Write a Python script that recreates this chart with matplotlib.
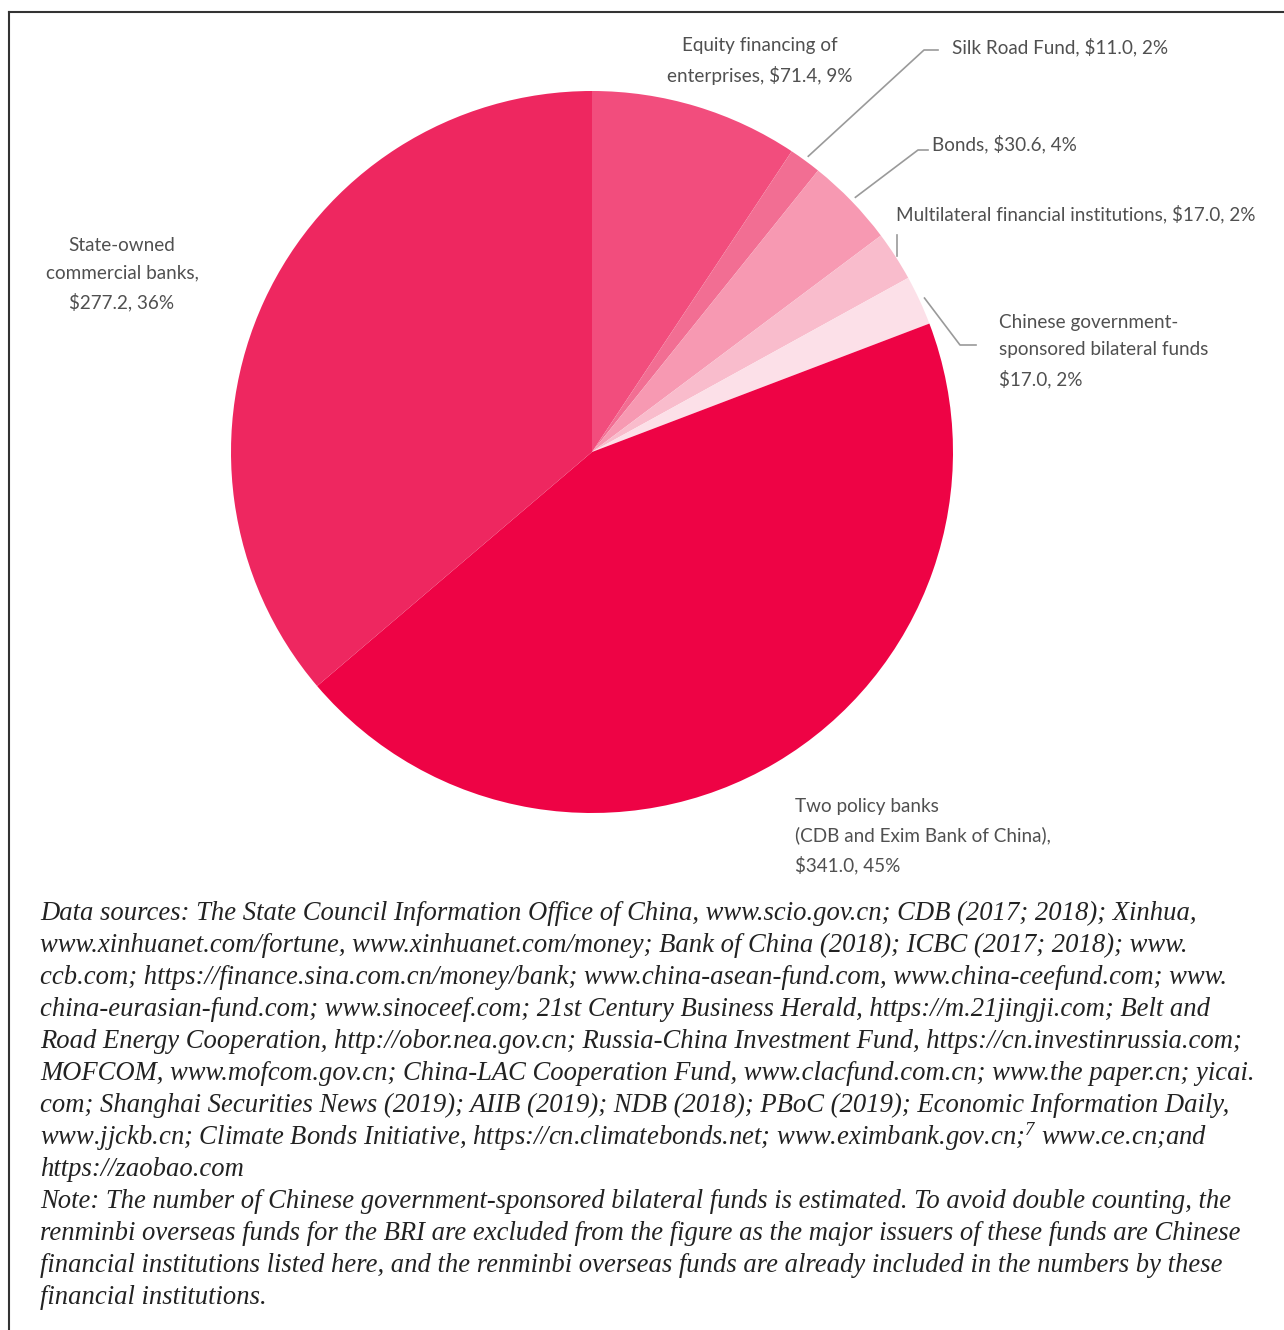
import numpy as np
import matplotlib
matplotlib.use("Agg")
import matplotlib.pyplot as plt
from matplotlib.lines import Line2D

# data, clockwise from 12 o'clock
labels = ["Equity financing of\nenterprises, $71.4, 9%",
          "Silk Road Fund, $11.0, 2%",
          "Bonds, $30.6, 4%",
          "Multilateral financial institutions, $17.0, 2%",
          "Chinese government-\nsponsored bilateral funds\n$17.0, 2%",
          "Two policy banks\n(CDB and Exim Bank of China),\n$341.0, 45%",
          "State-owned\ncommercial banks,\n$277.2, 36%"]
values = [71.4, 11.0, 30.6, 17.0, 17.0, 341.0, 277.2]
colors = ["#F24D7D", "#F26E93", "#F799B2", "#F9BCCC", "#FCE0E8", "#EE0345", "#EE2760"]

notes = [
    "Data sources: The State Council Information Office of China, www.scio.gov.cn; CDB (2017; 2018); Xinhua,",
    "www.xinhuanet.com/fortune, www.xinhuanet.com/money; Bank of China (2018); ICBC (2017; 2018); www.",
    "ccb.com; https://finance.sina.com.cn/money/bank; www.china-asean-fund.com, www.china-ceefund.com; www.",
    "china-eurasian-fund.com; www.sinoceef.com; 21st Century Business Herald, https://m.21jingji.com; Belt and",
    "Road Energy Cooperation, http://obor.nea.gov.cn; Russia-China Investment Fund, https://cn.investinrussia.com;",
    "MOFCOM, www.mofcom.gov.cn; China-LAC Cooperation Fund, www.clacfund.com.cn; www.the paper.cn; yicai.",
    "com; Shanghai Securities News (2019); AIIB (2019); NDB (2018); PBoC (2019); Economic Information Daily,",
    "www.jjckb.cn; Climate Bonds Initiative, https://cn.climatebonds.net; www.eximbank.gov.cn;$^{7}$ www.ce.cn;and",
    "https://zaobao.com",
    "Note: The number of Chinese government-sponsored bilateral funds is estimated. To avoid double counting, the",
    "renminbi overseas funds for the BRI are excluded from the figure as the major issuers of these funds are Chinese",
    "financial institutions listed here, and the renminbi overseas funds are already included in the numbers by these",
    "financial institutions.",
]

W, H = 1284, 1330
fig = plt.figure(figsize=(W / 100, H / 100), dpi=100)
plt.rcParams["mathtext.fontset"] = "custom"
plt.rcParams["mathtext.it"] = "Liberation Serif:italic"
plt.rcParams["mathtext.rm"] = "Liberation Serif:italic"


def fx(x, y):
    # image pixel (top-left origin) -> figure fraction
    return x / W, 1 - y / H


cx, cy, r = 592, 452, 361
ax = fig.add_axes([(cx - r) / W, (H - cy - r) / H, 2 * r / W, 2 * r / H])
wedges, _ = ax.pie(values, colors=colors, startangle=90, counterclock=False,
                   radius=1, wedgeprops=dict(linewidth=0))
ax.set_xlim(-1, 1)
ax.set_ylim(-1, 1)
ax.axis("off")

lab_kw = dict(fontsize=13.6, color="#505050", family="Lato", linespacing=1.75)

# label placements (pixel positions of the text anchor)
fig.text(*fx(760, 61), labels[0], ha="center", va="center", **lab_kw)
fig.text(*fx(952, 47), labels[1], ha="left", va="center", **lab_kw)
fig.text(*fx(932, 144), labels[2], ha="left", va="center", **lab_kw)
fig.text(*fx(896, 214), labels[3], ha="left", va="center", **lab_kw)
fig.text(*fx(999, 351), labels[4], ha="left", va="center", **lab_kw)
fig.text(*fx(795, 836), labels[5], ha="left", va="center", **lab_kw)
fig.text(*fx(122, 274), labels[6], ha="center", va="center", **lab_kw)

# leader lines from wedge middles to their labels
bends = {1: [(924, 50), (938, 50)],
         2: [(918, 150), (928, 150)],
         3: [(897, 235)],
         4: [(960, 345), (976, 345)]}
for i, pts in bends.items():
    w = wedges[i]
    ang = np.deg2rad((w.theta1 + w.theta2) / 2)
    rr = 1.015 if i != 3 else 1.0
    px, py = ax.transData.transform((rr * np.cos(ang), rr * np.sin(ang)))
    start = (px, H - py)
    if i == 3:
        start = (pts[0][0], H - py)
    xs, ys = zip(*[fx(*p) for p in [start] + pts])
    fig.add_artist(Line2D(xs, ys, color="#9a9a9a", lw=1.2))

# frame (top and left rule)
fig.add_artist(Line2D([fx(9, 12)[0], 1], [fx(9, 12)[1]] * 2, color="#333333", lw=1.5))
fig.add_artist(Line2D([fx(9, 12)[0]] * 2, [fx(9, 12)[1], 0], color="#333333", lw=1.5))

for k, line in enumerate(notes):
    fig.text(*fx(40, 913 + k * 32.0), line, ha="left", va="center",
             fontsize=19.2, style="italic", family="Liberation Serif", color="#222222")

fig.savefig("out.png", dpi=100)
